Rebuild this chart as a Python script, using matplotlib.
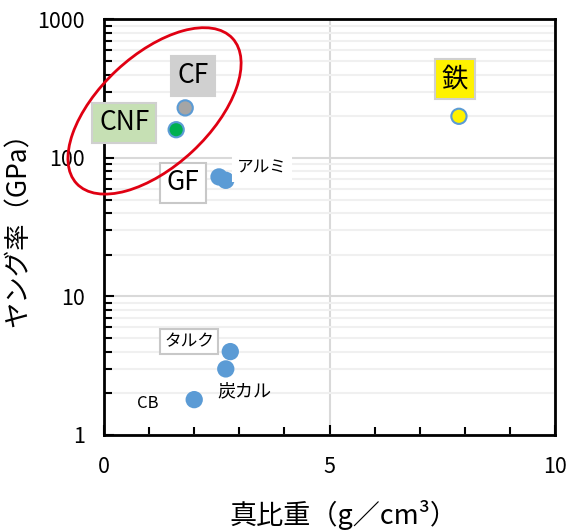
import matplotlib
matplotlib.use('Agg')
import matplotlib.pyplot as plt
import matplotlib.ticker as ticker
from matplotlib.patches import Ellipse
from matplotlib.transforms import ScaledTranslation

plt.rcParams['font.family'] = ['Noto Sans CJK JP', 'DejaVu Sans']

# 材料ごとの真比重とヤング率
names = ['CF', 'CNF', 'GF', 'アルミ', '鉄', 'タルク', '炭カル', 'CB']
density = [1.8, 1.6, 2.55, 2.7, 7.87, 2.8, 2.7, 2.0]
modulus = [230, 160, 73, 69, 200, 4.0, 3.0, 1.8]
fill = ['#A5A5A5', '#00B050', '#5B9BD5', '#5B9BD5', '#FFF200', '#5B9BD5', '#5B9BD5', '#5B9BD5']

# ラベルの位置(点からのずれ, px)と枠
offsets = [(8, 32), (-52, 7), (-36, -6), (36, 12), (-4, 37), (-41, 10), (19, -22), (-46, -4)]
sizes = [19, 19, 19, 12, 19, 12, 13, 12]
boxes = [
    dict(fc='#D0D0D0', ec='#D0D0D0'),
    dict(fc='#C6E0B4', ec='#D0D0D0'),
    dict(fc='white', ec='#C8C8C8'),
    dict(fc='white', ec='white'),
    dict(fc='#FFF200', ec='#D0D0D0'),
    dict(fc='white', ec='#C8C8C8'),
    None,
    None,
]

fig = plt.figure(figsize=(5.74, 5.31), dpi=100)
ax = fig.add_axes([0.1812, 0.1808, 0.7857, 0.7825])

ax.set_yscale('log')
ax.set_xlim(0, 10)
ax.set_ylim(1, 1000)

ax.scatter(density, modulus, s=120, c=fill, edgecolors='#5B9BD5', linewidths=1.5, zorder=3)

for i, name in enumerate(names):
    bb = None
    if boxes[i] is not None:
        bb = dict(boxstyle='square,pad=0.25', lw=1.5, **boxes[i])
    ax.annotate(name, (density[i], modulus[i]), xytext=offsets[i], textcoords='offset pixels',
                ha='center', va='center', fontsize=sizes[i], bbox=bb, zorder=4)

# CF/CNFを囲む赤い楕円
ell = Ellipse((0, 0), 2.13, 1.11, angle=43, fill=False, ec='#E00012', lw=2,
              transform=fig.dpi_scale_trans + ScaledTranslation(0.112, 0.78, ax.transAxes),
              clip_on=False, zorder=5)
ax.add_patch(ell)

ax.xaxis.set_major_locator(ticker.MultipleLocator(5))
ax.xaxis.set_minor_locator(ticker.MultipleLocator(1))
ax.yaxis.set_major_locator(ticker.LogLocator(base=10))
ax.yaxis.set_minor_locator(ticker.LogLocator(base=10, subs=range(2, 10)))
ax.yaxis.set_major_formatter(ticker.FuncFormatter(lambda v, p: '%d' % v))
ax.yaxis.set_minor_formatter(ticker.NullFormatter())

ax.grid(True, which='major', color='#D9D9D9', lw=1.5)
ax.grid(True, which='minor', axis='y', color='#F0F0F0', lw=1.5)
ax.set_axisbelow(True)

ax.tick_params(which='both', direction='in', width=1.5, labelsize=15.5)
ax.tick_params(which='major', length=7)
ax.tick_params(which='minor', length=6)
ax.tick_params(axis='x', pad=15)
ax.tick_params(axis='y', pad=14)
for sp in ax.spines.values():
    sp.set_linewidth(2)

ax.set_xlabel('真比重（g／cm³）', fontsize=19.5, ha='center', va='center')
ax.set_ylabel('ヤング率（GPa）', fontsize=19, ha='center', va='center')
ax.xaxis.set_label_coords(0.53, -0.193)
ax.yaxis.set_label_coords(-0.19, 0.51)

fig.savefig('out.png', dpi=100)
